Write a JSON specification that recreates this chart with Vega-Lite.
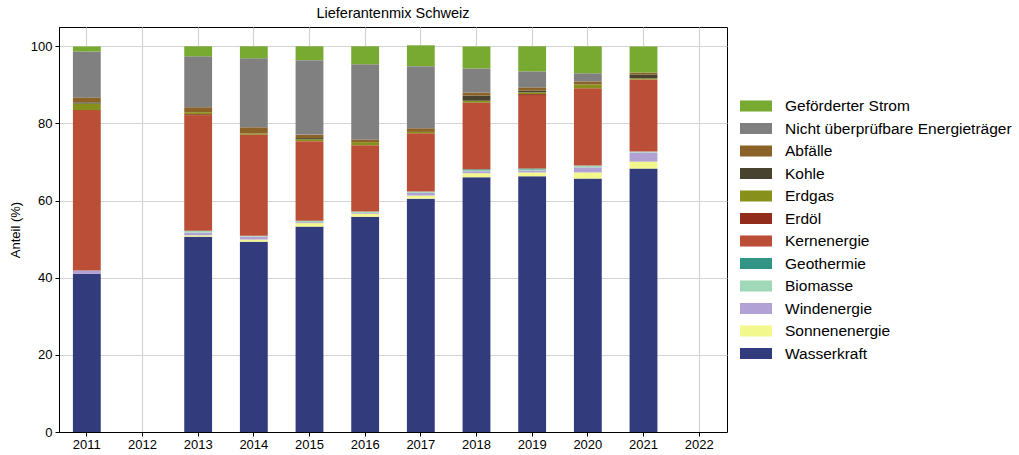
{
  "$schema": "https://vega.github.io/schema/vega-lite/v6.json",
  "autosize": {"type": "none"},
  "padding": {"left": 59, "top": 27, "right": 292, "bottom": 23},
  "width": 668,
  "height": 405,
  "background": "white",
  "title": {"text": "Lieferantenmix Schweiz", "font": "Liberation Sans", "fontSize": 14.5, "fontWeight": "normal", "color": "black", "anchor": "middle", "offset": 6},
  "config": {
    "view": {"stroke": "black", "strokeWidth": 1},
    "font": "Liberation Sans"
  },
  "datasets": {
    "mix": [
      {"year": "2011", "source": "Wasserkraft", "value": 41.0},
      {"year": "2011", "source": "Windenergie", "value": 0.85},
      {"year": "2011", "source": "Kernenergie", "value": 41.6},
      {"year": "2011", "source": "Erdgas", "value": 1.7},
      {"year": "2011", "source": "Kohle", "value": 0.3},
      {"year": "2011", "source": "Abfälle", "value": 1.3},
      {"year": "2011", "source": "Nicht überprüfbare Energieträger", "value": 11.9},
      {"year": "2011", "source": "Geförderter Strom", "value": 1.3},

      {"year": "2013", "source": "Wasserkraft", "value": 50.65},
      {"year": "2013", "source": "Sonnenenergie", "value": 0.35},
      {"year": "2013", "source": "Windenergie", "value": 0.7},
      {"year": "2013", "source": "Biomasse", "value": 0.5},
      {"year": "2013", "source": "Kernenergie", "value": 29.9},
      {"year": "2013", "source": "Erdöl", "value": 0.3},
      {"year": "2013", "source": "Erdgas", "value": 0.5},
      {"year": "2013", "source": "Abfälle", "value": 1.3},
      {"year": "2013", "source": "Nicht überprüfbare Energieträger", "value": 13.2},
      {"year": "2013", "source": "Geförderter Strom", "value": 2.6},

      {"year": "2014", "source": "Wasserkraft", "value": 49.35},
      {"year": "2014", "source": "Sonnenenergie", "value": 0.55},
      {"year": "2014", "source": "Windenergie", "value": 0.75},
      {"year": "2014", "source": "Biomasse", "value": 0.25},
      {"year": "2014", "source": "Kernenergie", "value": 26.2},
      {"year": "2014", "source": "Erdgas", "value": 0.3},
      {"year": "2014", "source": "Abfälle", "value": 1.6},
      {"year": "2014", "source": "Nicht überprüfbare Energieträger", "value": 17.9},
      {"year": "2014", "source": "Geförderter Strom", "value": 3.1},

      {"year": "2015", "source": "Wasserkraft", "value": 53.25},
      {"year": "2015", "source": "Sonnenenergie", "value": 0.9},
      {"year": "2015", "source": "Windenergie", "value": 0.25},
      {"year": "2015", "source": "Biomasse", "value": 0.4},
      {"year": "2015", "source": "Kernenergie", "value": 20.6},
      {"year": "2015", "source": "Erdgas", "value": 0.5},
      {"year": "2015", "source": "Kohle", "value": 0.3},
      {"year": "2015", "source": "Abfälle", "value": 0.9},
      {"year": "2015", "source": "Nicht überprüfbare Energieträger", "value": 19.3},
      {"year": "2015", "source": "Geförderter Strom", "value": 3.6},

      {"year": "2016", "source": "Wasserkraft", "value": 55.8},
      {"year": "2016", "source": "Sonnenenergie", "value": 0.8},
      {"year": "2016", "source": "Windenergie", "value": 0.2},
      {"year": "2016", "source": "Biomasse", "value": 0.35},
      {"year": "2016", "source": "Kernenergie", "value": 17.2},
      {"year": "2016", "source": "Erdgas", "value": 0.8},
      {"year": "2016", "source": "Abfälle", "value": 0.7},
      {"year": "2016", "source": "Nicht überprüfbare Energieträger", "value": 19.5},
      {"year": "2016", "source": "Geförderter Strom", "value": 4.65},

      {"year": "2017", "source": "Wasserkraft", "value": 60.5},
      {"year": "2017", "source": "Sonnenenergie", "value": 0.8},
      {"year": "2017", "source": "Windenergie", "value": 0.7},
      {"year": "2017", "source": "Biomasse", "value": 0.35},
      {"year": "2017", "source": "Kernenergie", "value": 15.1},
      {"year": "2017", "source": "Erdgas", "value": 0.35},
      {"year": "2017", "source": "Abfälle", "value": 0.95},
      {"year": "2017", "source": "Nicht überprüfbare Energieträger", "value": 16.1},
      {"year": "2017", "source": "Geförderter Strom", "value": 5.4},

      {"year": "2018", "source": "Wasserkraft", "value": 66.05},
      {"year": "2018", "source": "Sonnenenergie", "value": 1.05},
      {"year": "2018", "source": "Windenergie", "value": 0.5},
      {"year": "2018", "source": "Biomasse", "value": 0.25},
      {"year": "2018", "source": "Geothermie", "value": 0.25},
      {"year": "2018", "source": "Kernenergie", "value": 17.3},
      {"year": "2018", "source": "Erdgas", "value": 0.5},
      {"year": "2018", "source": "Kohle", "value": 1.3},
      {"year": "2018", "source": "Abfälle", "value": 0.8},
      {"year": "2018", "source": "Nicht überprüfbare Energieträger", "value": 6.25},
      {"year": "2018", "source": "Geförderter Strom", "value": 5.7},

      {"year": "2019", "source": "Wasserkraft", "value": 66.3},
      {"year": "2019", "source": "Sonnenenergie", "value": 1.0},
      {"year": "2019", "source": "Windenergie", "value": 0.5},
      {"year": "2019", "source": "Biomasse", "value": 0.25},
      {"year": "2019", "source": "Geothermie", "value": 0.25},
      {"year": "2019", "source": "Kernenergie", "value": 19.05},
      {"year": "2019", "source": "Erdöl", "value": 0.25},
      {"year": "2019", "source": "Erdgas", "value": 0.45},
      {"year": "2019", "source": "Kohle", "value": 0.5},
      {"year": "2019", "source": "Abfälle", "value": 0.8},
      {"year": "2019", "source": "Nicht überprüfbare Energieträger", "value": 4.15},
      {"year": "2019", "source": "Geförderter Strom", "value": 6.5},

      {"year": "2020", "source": "Wasserkraft", "value": 65.7},
      {"year": "2020", "source": "Sonnenenergie", "value": 1.6},
      {"year": "2020", "source": "Windenergie", "value": 1.3},
      {"year": "2020", "source": "Biomasse", "value": 0.5},
      {"year": "2020", "source": "Kernenergie", "value": 20.0},
      {"year": "2020", "source": "Erdgas", "value": 1.0},
      {"year": "2020", "source": "Abfälle", "value": 0.8},
      {"year": "2020", "source": "Nicht überprüfbare Energieträger", "value": 2.1},
      {"year": "2020", "source": "Geförderter Strom", "value": 7.0},

      {"year": "2021", "source": "Wasserkraft", "value": 68.3},
      {"year": "2021", "source": "Sonnenenergie", "value": 1.8},
      {"year": "2021", "source": "Windenergie", "value": 2.35},
      {"year": "2021", "source": "Biomasse", "value": 0.25},
      {"year": "2021", "source": "Kernenergie", "value": 18.7},
      {"year": "2021", "source": "Erdgas", "value": 0.3},
      {"year": "2021", "source": "Kohle", "value": 1.0},
      {"year": "2021", "source": "Abfälle", "value": 0.5},
      {"year": "2021", "source": "Geförderter Strom", "value": 6.75}
    ],
    "sources": [
      {"source": "Wasserkraft", "rank": 1},
      {"source": "Sonnenenergie", "rank": 2},
      {"source": "Windenergie", "rank": 3},
      {"source": "Biomasse", "rank": 4},
      {"source": "Geothermie", "rank": 5},
      {"source": "Kernenergie", "rank": 6},
      {"source": "Erdöl", "rank": 7},
      {"source": "Erdgas", "rank": 8},
      {"source": "Kohle", "rank": 9},
      {"source": "Abfälle", "rank": 10},
      {"source": "Nicht überprüfbare Energieträger", "rank": 11},
      {"source": "Geförderter Strom", "rank": 12}
    ]
  },
  "data": {"name": "mix"},
  "transform": [
    {"lookup": "source", "from": {"data": {"name": "sources"}, "key": "source", "fields": ["rank"]}}
  ],
  "mark": {"type": "bar", "strokeWidth": 0},
  "encoding": {
    "x": {
      "field": "year", "type": "ordinal",
      "scale": {"domain": ["2011","2012","2013","2014","2015","2016","2017","2018","2019","2020","2021","2022"], "paddingInner": 0.5, "paddingOuter": 0.25},
      "axis": {
        "title": null, "labelAngle": 0, "grid": true, "gridColor": "#d3d3d3", "gridWidth": 1.2, "bandPosition": 0.5,
        "domainColor": "black", "tickColor": "black", "tickSize": 4, "labelPadding": 2,
        "labelFont": "Liberation Sans", "labelFontSize": 13, "labelColor": "black"
      }
    },
    "y": {
      "field": "value", "type": "quantitative", "stack": "zero",
      "scale": {"domain": [0, 105], "nice": false},
      "axis": {
        "title": "Anteil (%)", "values": [0, 20, 40, 60, 80, 100], "grid": true, "gridColor": "#d3d3d3", "gridWidth": 1.2,
        "domainColor": "black", "tickColor": "black", "tickSize": 4, "labelPadding": 3,
        "labelFont": "Liberation Sans", "labelFontSize": 13, "labelColor": "black",
        "titleFont": "Liberation Sans", "titleFontSize": 13, "titleFontWeight": "normal", "titleColor": "black", "titlePadding": 8
      }
    },
    "order": {"field": "rank", "sort": "ascending"},
    "color": {
      "field": "source", "type": "nominal",
      "scale": {
        "domain": ["Geförderter Strom", "Nicht überprüfbare Energieträger", "Abfälle", "Kohle", "Erdgas", "Erdöl", "Kernenergie", "Geothermie", "Biomasse", "Windenergie", "Sonnenenergie", "Wasserkraft"],
        "range": ["#78a931", "#808080", "#8b6328", "#48432e", "#87901a", "#912b1a", "#ba4e36", "#329484", "#a1d8b8", "#b2a1d4", "#f3f88d", "#323b7c"]
      },
      "legend": {
        "title": null, "orient": "none", "legendX": 681, "legendY": 71,
        "symbolType": "M-1,-0.69H3V0.69H-1Z", "symbolSize": 256, "symbolStrokeWidth": 0, "symbolOpacity": 1,
        "labelOffset": 29, "rowPadding": 5.5, "labelFont": "Liberation Sans", "labelFontSize": 15.5, "labelColor": "black", "labelLimit": 400
      }
    }
  }
}
